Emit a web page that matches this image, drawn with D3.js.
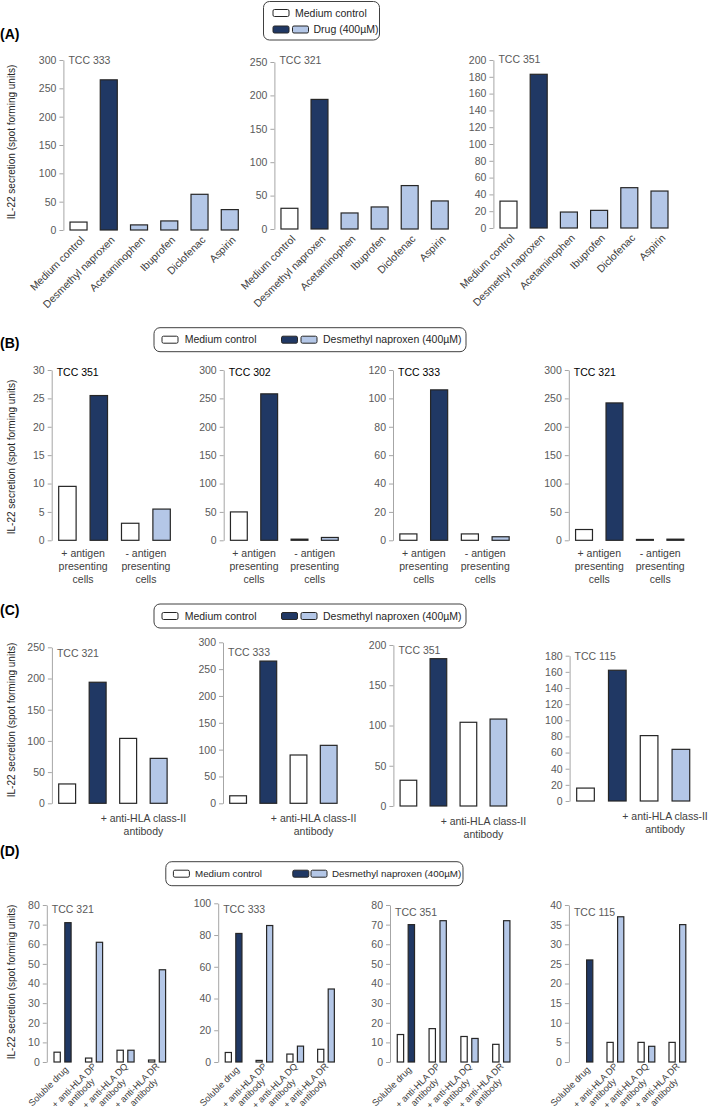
<!DOCTYPE html>
<html>
<head>
<meta charset="utf-8">
<script src="https://cdnjs.cloudflare.com/ajax/libs/d3/7.8.5/d3.min.js"></script>
<style>
  body { margin: 0; background: #fff; }
</style>
</head>
<body>
<script>
// ---------------- data ----------------
const seriesKeys = ["medium", "drug"];

// (A) different drugs, one bar per drug
const drugsA = ["Medium control", "Desmethyl naproxen", "Acetaminophen", "Ibuprofen", "Diclofenac", "Aspirin"];
const clonesA = ["TCC 333", "TCC 321", "TCC 351"];
const valuesA = [
    [14, 265, 9, 16, 63, 36],
    [31, 194, 24, 33, 65, 42],
    [32, 183, 19, 21, 48, 44]
];
const yMaxA = [300, 250, 200];
const yStepA = [50, 50, 20];

// (B) with / without antigen presenting cells
const groupsB = [["+ antigen", "presenting", "cells"], ["- antigen", "presenting", "cells"]];
const clonesB = ["TCC 351", "TCC 302", "TCC 333", "TCC 321"];
const mediumB = [[9.5, 3], [50, 2], [4.5, 4.5], [19, 1.5]];
const drugB = [[25.5, 5.5], [258, 5], [106, 2.5], [242, 2]];
const yMaxB = [30, 300, 120, 300];
const yStepB = [5, 50, 20, 50];

// (C) anti-HLA class-II blocking
const groupsC = [[""], ["+ anti-HLA class-II", "antibody"]];
const clonesC = ["TCC 321", "TCC 333", "TCC 351", "TCC 115"];
const mediumC = [[31, 104], [14, 90], [32, 104], [16, 81]];
const drugC = [[194, 72], [265, 108], [183, 108], [162, 64]];
const yMaxC = [250, 300, 200, 180];
const yStepC = [50, 50, 50, 20];

// (D) anti-HLA DP / DQ / DR blocking
const groupsD = [["Soluble drug"], ["+ anti-HLA DP", "antibody"], ["+ anti-HLA DQ", "antibody"], ["+ anti-HLA DR", "antibody"]];
const clonesD = ["TCC 321", "TCC 333", "TCC 351", "TCC 115"];
const mediumD = [[5, 2, 6, 1], [6, 1, 5, 8], [14, 17, 13, 9], [null, 5, 5, 5]];
const drugD = [[71, 61, 6, 47], [81, 86, 10, 46], [70, 72, 12, 72], [26, 37, 4, 35]];
const yMaxD = [80, 100, 80, 40];
const yStepD = [10, 20, 10, 5];

const yLabel = "IL-22 secretion (spot forming units)";

// ---------------- layout (pixel boxes of each small chart) ----------------
const layoutA = [
    { x0: 63.4, x1: 244.9, y0: 230, y1: 60, ty: 64 },
    { x0: 274.4, x1: 454.8, y0: 229, y1: 62, ty: 64 },
    { x0: 493.4, x1: 674.6, y0: 228, y1: 60, ty: 63 }
];
const layoutB = [
    { x0: 51.7, x1: 177.3, y0: 540.3, y1: 370, ty: 375.5 },
    { x0: 223.7, x1: 345, y0: 540.3, y1: 370, ty: 375.5 },
    { x0: 393, x1: 516, y0: 540.3, y1: 370, ty: 375.5 },
    { x0: 568.8, x1: 690.6, y0: 540.3, y1: 370, ty: 375.5 }
];
const layoutC = [
    { x0: 51.9, x1: 173.9, y0: 803.3, y1: 647.3, ty: 656.5 },
    { x0: 223, x1: 343.8, y0: 803.3, y1: 642.3, ty: 655.5 },
    { x0: 393.4, x1: 513.4, y0: 806, y1: 645, ty: 654 },
    { x0: 569.6, x1: 696.8, y0: 801, y1: 655.7, ty: 659.5 }
];
const layoutD = [
    { x0: 46.8, x1: 172.8, y0: 1062, y1: 905, ty: 913 },
    { x0: 218.2, x1: 341.4, y0: 1062, y1: 903.3, ty: 913 },
    { x0: 390, x1: 517.2, y0: 1062, y1: 905, ty: 916 },
    { x0: 568.9, x1: 692.9, y0: 1062, y1: 905, ty: 916 }
];

const FONT = "'Liberation Sans', Arial, sans-serif";
const C_DARK = "#203864", C_LIGHT = "#b4c7e7", C_EDGE = "#262626";
const C_AXIS = "#a6a6a6", C_TICK = "#595959", C_TEXT = "#404040";

const svg = d3.select("body").append("svg")
    .attr("width", 709)
    .attr("height", 1113)
    .attr("font-family", FONT);

// ---------------- helpers ----------------
function drawYAxis(g, y, max, step, x0) {
    const ax = g.append("g")
        .attr("transform", "translate(" + x0 + ",0)")
        .call(d3.axisLeft(y)
            .tickValues(d3.range(0, max + step / 2, step))
            .tickSize(4)
            .tickSizeOuter(0)
            .tickPadding(3));
    ax.attr("font-family", FONT).attr("font-size", 10.5);
    ax.select(".domain").attr("stroke", C_AXIS);
    ax.selectAll(".tick line").attr("stroke", C_AXIS);
    ax.selectAll(".tick text").attr("fill", C_TICK);
}

function barColor(key, gi) {
    if (key === "medium") return "#ffffff";
    return gi === 0 ? C_DARK : C_LIGHT;
}

// rotated (-45deg) label, lines centred on each other, block end at (x, y)
function rotatedLabel(g, lines, x, y, size) {
    const t = g.append("g").attr("transform", "translate(" + x + "," + y + ") rotate(-45)");
    const texts = lines.map((s, i) => t.append("text")
        .text(s)
        .attr("text-anchor", "end")
        .attr("font-size", size)
        .attr("fill", C_TEXT)
        .attr("y", (i - (lines.length - 1) / 2) * size * 1.05)
        .attr("dy", "0.35em"));
    const widths = texts.map(tx => tx.node().getComputedTextLength());
    const wmax = d3.max(widths);
    texts.forEach((tx, i) => tx.attr("x", -(wmax - widths[i]) / 2));
}

function drawLegend(x, y, w, h, rows, fs) {
    const g = svg.append("g").attr("class", "legend");
    g.append("rect")
        .attr("x", x).attr("y", y).attr("width", w).attr("height", h)
        .attr("rx", 6)
        .attr("fill", "#fff").attr("stroke", "#404040").attr("stroke-width", 1);
    rows.forEach(r => {
        r.swatches.forEach(s => {
            g.append("rect")
                .attr("x", s.x).attr("y", r.y - 3.5).attr("width", 16).attr("height", 7)
                .attr("rx", 1.5)
                .attr("fill", s.fill).attr("stroke", C_EDGE).attr("stroke-width", 1);
        });
        g.append("text")
            .attr("x", r.tx).attr("y", r.y).attr("dy", "0.35em")
            .attr("font-size", fs || 10.5).attr("fill", "#262626")
            .text(r.text);
    });
}

function panelLetter(txt, y) {
    svg.append("text")
        .attr("x", 0).attr("y", y)
        .attr("font-size", 14).attr("font-weight", "bold").attr("fill", "#000")
        .text(txt);
}

function drawYLabel(cy) {
    svg.append("text")
        .attr("transform", "translate(15," + cy + ") rotate(-90)")
        .attr("text-anchor", "middle")
        .attr("font-size", 10)
        .attr("fill", "#262626")
        .text(yLabel);
}

function drawTitle(g, txt, x, y, color) {
    g.append("text")
        .attr("x", x).attr("y", y)
        .attr("font-size", 10.5)
        .attr("fill", color)
        .text(txt);
}

// grouped subplot: groups of [medium, drug] bars
function drawGrouped(lay, opt) {
    const g = svg.append("g");
    const y = d3.scaleLinear().domain([0, opt.max]).range([lay.y0, lay.y1]);
    const gx = d3.scaleBand().domain(d3.range(opt.groups.length)).range([lay.x0, lay.x1]);
    const sx = d3.scaleBand().domain(seriesKeys).range([0, gx.bandwidth()])
        .paddingInner(opt.pi).paddingOuter(opt.po);

    drawYAxis(g, y, opt.max, opt.step, lay.x0);

    const bars = [];
    opt.groups.forEach((_, gi) => {
        bars.push({ gi: gi, key: "medium", v: opt.medium[gi] });
        bars.push({ gi: gi, key: "drug", v: opt.drug[gi] });
    });

    g.selectAll("rect.bar")
        .data(bars.filter(d => d.v != null))
        .join("rect")
        .attr("class", "bar")
        .attr("x", d => gx(d.gi) + sx(d.key))
        .attr("y", d => y(d.v))
        .attr("width", sx.bandwidth())
        .attr("height", d => lay.y0 - y(d.v))
        .attr("fill", d => barColor(d.key, d.gi))
        .attr("stroke", C_EDGE)
        .attr("stroke-width", 1.2);

    drawTitle(g, opt.title, lay.x0 + 5, lay.ty, opt.titleColor);

    // category labels
    opt.groups.forEach((lines, gi) => {
        const cx = gx(gi) + gx.bandwidth() / 2;
        if (opt.rotate) {
            rotatedLabel(g, lines, cx + 4, lay.y0 + 6, 9.2);
        } else {
            lines.forEach((s, li) => {
                g.append("text")
                    .attr("x", cx).attr("y", lay.y0 + opt.labelDy + li * 13)
                    .attr("text-anchor", "middle")
                    .attr("font-size", 10.5).attr("fill", C_TEXT)
                    .text(s);
            });
        }
    });
}

// ---------------- (A) ----------------
panelLetter("(A)", 39);
drawLegend(263.5, 1.5, 116, 38.5, [
    { y: 13, tx: 295, text: "Medium control", swatches: [{ x: 273, fill: "#fff" }] },
    { y: 29.5, tx: 313.5, text: "Drug (400µM)", swatches: [{ x: 273, fill: C_DARK }, { x: 292.5, fill: C_LIGHT }] }
]);
drawYLabel(142);

clonesA.forEach((clone, ci) => {
    const lay = layoutA[ci];
    const g = svg.append("g");
    const y = d3.scaleLinear().domain([0, yMaxA[ci]]).range([lay.y0, lay.y1]);
    const x = d3.scaleBand().domain(drugsA).range([lay.x0, lay.x1])
        .paddingInner(0.437).paddingOuter(0.2185);

    drawYAxis(g, y, yMaxA[ci], yStepA[ci], lay.x0);

    g.selectAll("rect.bar")
        .data(drugsA.map((d, i) => ({ name: d, i: i, v: valuesA[ci][i] })))
        .join("rect")
        .attr("class", "bar")
        .attr("x", d => x(d.name))
        .attr("y", d => y(d.v))
        .attr("width", x.bandwidth())
        .attr("height", d => lay.y0 - y(d.v))
        .attr("fill", d => d.i === 0 ? "#fff" : (d.i === 1 ? C_DARK : C_LIGHT))
        .attr("stroke", C_EDGE)
        .attr("stroke-width", 1.2);

    drawTitle(g, clone, lay.x0 + 5, lay.ty, C_TICK);

    drugsA.forEach(d => {
        rotatedLabel(g, [d], x(d) + x.bandwidth() / 2 + 4, lay.y0 + 8, 10.5);
    });
});

// ---------------- (B) ----------------
panelLetter("(B)", 348);
drawLegend(154, 327.7, 312, 24, [
    { y: 339.7, tx: 184.7, text: "Medium control", swatches: [{ x: 162, fill: "#fff" }] },
    { y: 339.7, tx: 323, text: "Desmethyl naproxen (400µM)", swatches: [{ x: 281.5, fill: C_DARK }, { x: 301, fill: C_LIGHT }] }
]);
drawYLabel(457);
clonesB.forEach((clone, ci) => {
    drawGrouped(layoutB[ci], {
        max: yMaxB[ci], step: yStepB[ci], groups: groupsB,
        medium: mediumB[ci], drug: drugB[ci], title: clone, titleColor: "#000",
        pi: 0.445, po: 0.2225, rotate: false, labelDy: 16.5
    });
});

// ---------------- (C) ----------------
panelLetter("(C)", 615);
drawLegend(154, 604, 312, 24, [
    { y: 616, tx: 184.7, text: "Medium control", swatches: [{ x: 162, fill: "#fff" }] },
    { y: 616, tx: 323, text: "Desmethyl naproxen (400µM)", swatches: [{ x: 281.5, fill: C_DARK }, { x: 301, fill: C_LIGHT }] }
]);
drawYLabel(720);
clonesC.forEach((clone, ci) => {
    drawGrouped(layoutC[ci], {
        max: yMaxC[ci], step: yStepC[ci], groups: groupsC,
        medium: mediumC[ci], drug: drugC[ci], title: clone, titleColor: C_TICK,
        pi: 0.445, po: 0.2225, rotate: false, labelDy: 18.5
    });
});

// ---------------- (D) ----------------
panelLetter("(D)", 856);
drawLegend(165.8, 861.7, 297.2, 24, [
    { y: 873.7, tx: 195, text: "Medium control", swatches: [{ x: 173.4, fill: "#fff" }] },
    { y: 873.7, tx: 332, text: "Desmethyl naproxen (400µM)", swatches: [{ x: 292.8, fill: C_DARK }, { x: 311, fill: C_LIGHT }] }
], 9.8);
drawYLabel(982);
clonesD.forEach((clone, ci) => {
    drawGrouped(layoutD[ci], {
        max: yMaxD[ci], step: yStepD[ci], groups: groupsD,
        medium: mediumD[ci], drug: drugD[ci], title: clone, titleColor: C_TICK,
        pi: 0.417, po: 0.667, rotate: true
    });
});
</script>
</body>
</html>
